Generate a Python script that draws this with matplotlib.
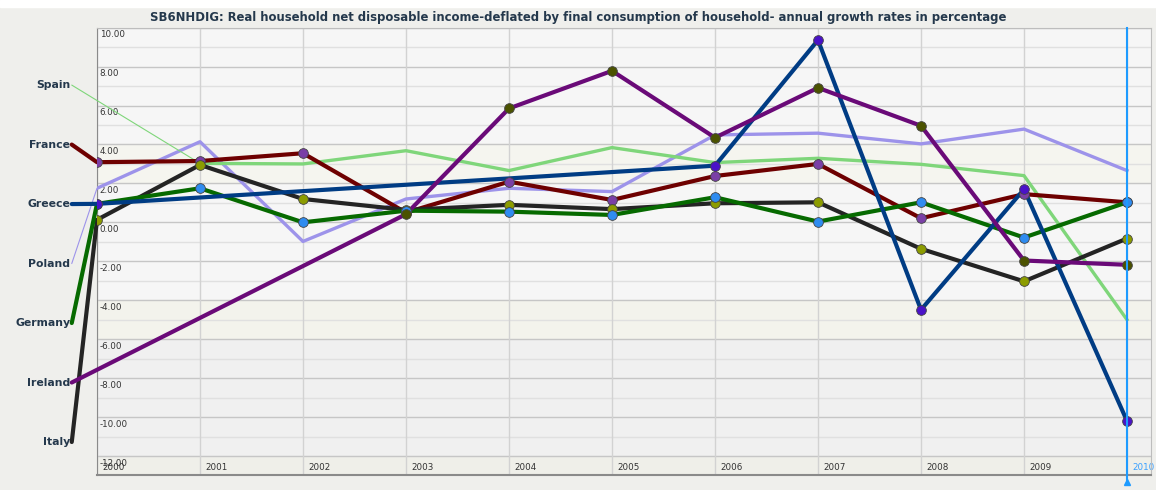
import numpy as np
import matplotlib
matplotlib.use("Agg")
import matplotlib.pyplot as plt

years = [2000, 2001, 2002, 2003, 2004, 2005, 2006, 2007, 2008, 2009, 2010]

# annual growth rates, None = no value
france = [3.09, 3.15, 3.55, 0.5, 2.09, 1.15, 2.38, 3.0, 0.21, 1.45, 1.03]
spain = [None, 3.03, 3.0, 3.68, 2.66, 3.84, 3.07, 3.29, 2.98, 2.4, -5.0]
greece = [0.95, None, None, None, None, None, 2.91, 9.36, -4.49, 1.7, -10.2]
poland = [1.75, 4.14, -0.98, 1.2, 1.75, 1.58, 4.49, 4.58, 4.03, 4.79, 2.66]
germany = [0.95, 1.75, 0.0, 0.6, 0.55, 0.38, 1.29, 0.04, 1.03, -0.78, 1.03]
ireland = [None, None, None, 0.42, 5.85, 7.78, 4.35, 6.91, 4.96, -1.96, -2.18]
italy = [0.13, 2.95, 1.2, 0.64, 0.9, 0.68, 0.98, 1.03, -1.36, -3.03, -0.83]

# label order on the left side, top to bottom
label_order = ["Spain", "France", "Greece", "Poland", "Germany", "Ireland", "Italy"]

series = {
    "Poland": poland,
    "Spain": spain,
    "France": france,
    "Italy": italy,
    "Germany": germany,
    "Greece": greece,
    "Ireland": ireland,
}

# colour, line width, marker colour (None = no marker), leader width
styles = {
    "France": ("#6e0000", 3.0, "#7a3fa6", 3.0),
    "Spain": ("#7fd67a", 2.4, None, 0.8),
    "Greece": ("#003c84", 3.0, "#4a12c8", 3.0),
    "Poland": ("#9d93ea", 2.4, None, 0.8),
    "Germany": ("#066a00", 3.0, "#2f8cf0", 3.0),
    "Ireland": ("#6a0a78", 3.0, "#4b5200", 3.0),
    "Italy": ("#242424", 3.0, "#8c9c00", 3.0),
}

fig = plt.figure(figsize=(11.56, 4.9), dpi=100, facecolor="#efefec")
# white strip at the very top
fig.patches.append(plt.Rectangle((0, 0.985), 1, 0.015, transform=fig.transFigure,
                                 color="white", zorder=0))
ax = fig.add_axes([0.0839, 0.0296, 0.9115, 0.914])
ax.set_facecolor("#f6f6f6")
ax.set_xlim(2000, 2010.23)
ax.set_ylim(-13, 10)

# background bands
ax.axhspan(2, 4, color="#f5f5ef", zorder=0)
ax.axhspan(-6, -4, color="#f3f3ec", zorder=0)
ax.axhspan(-12, -6, color="#f0f0f0", zorder=0)
ax.axhspan(-13, -12, color="#efefe9", zorder=0)

# grid
for v in range(-12, 11):
    ax.plot([2000, 2010.23], [v, v], color="#c6c6c6" if v % 2 == 0 else "#e0e0e0",
            lw=1.0, zorder=1)
for yr in years:
    ax.plot([yr, yr], [-13, 10], color="#d2d2d2", lw=1.0, zorder=1)

for s in ax.spines.values():
    s.set_color("#bdbdbd")
ax.spines["left"].set_color("#8a8a8a")
ax.spines["bottom"].set_color("#8a8a8a")
ax.spines["bottom"].set_linewidth(1.5)
ax.set_xticks([])
ax.set_yticks([])

# y labels inside the plot
for v in range(-12, 11, 2):
    ax.annotate(f"{v:.2f}", xy=(0, v), xycoords=("axes fraction", "data"),
                xytext=(2, -2), textcoords="offset points", va="top", ha="left",
                fontsize=6.3, color="#333333", zorder=2)

# x labels in the bottom band
for yr in years:
    c = "#3aa0ff" if yr == 2010 else "#333333"
    ax.annotate(str(yr), xy=(yr, -12.6), xytext=(4, 0), textcoords="offset points",
                va="center", ha="left", fontsize=6.3, color=c, zorder=2)

# highlight of last year
ax.plot([2010, 2010], [10, -13.35], color="#1e9bff", lw=1.5, clip_on=False, zorder=6)
ax.plot([2010], [-13.35], marker="^", color="#1e9bff", ms=5, clip_on=False, zorder=6)

label_y = np.linspace(7.05, -11.28, len(label_order))
label_pos = dict(zip(label_order, label_y))

for name, vals in series.items():
    col, lw, mcol, llw = styles[name]
    xs = [x for x, v in zip(years, vals) if v is not None]
    ys = [v for v in vals if v is not None]
    ly = label_pos[name]
    # leader from the label to the first point
    ax.plot([2000 - 0.245, xs[0]], [ly, ys[0]], color=col, lw=llw, clip_on=False,
            solid_capstyle="round", zorder=3)
    ax.plot(xs, ys, color=col, lw=lw, solid_joinstyle="round", zorder=3)
    if mcol is not None:
        ax.plot(xs, ys, ls="none", marker="o", ms=7, mfc=mcol, mec="#444444",
                mew=0.6, zorder=4)
    ax.text(2000 - 0.26, ly, name, ha="right", va="center", fontsize=7.8,
            fontweight="bold", color="#24384c", clip_on=False)

fig.text(0.5, 0.965, "SB6NHDIG: Real household net disposable income-deflated by final "
         "consumption of household- annual growth rates in percentage",
         ha="center", va="center", fontsize=8.4, fontweight="bold", color="#24384c")

fig.savefig("out.png", dpi=100, facecolor=fig.get_facecolor())
